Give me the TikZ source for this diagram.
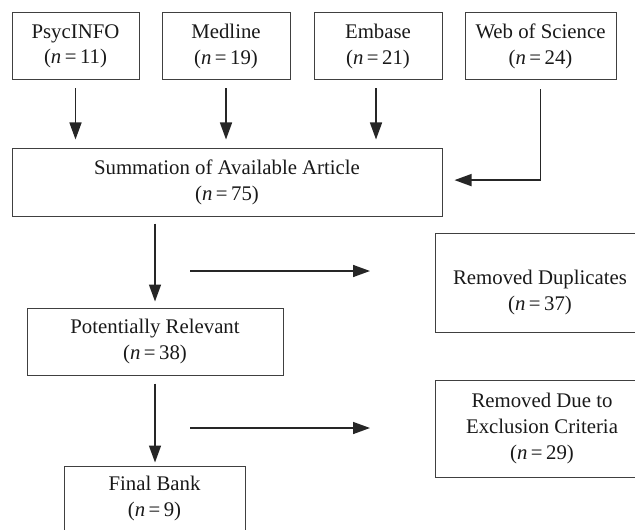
\documentclass[tikz,border=0pt]{standalone}
\usepackage{fontspec}
\setmainfont{Liberation Serif}
\usetikzlibrary{arrows.meta}

\newcommand{\nval}[1]{(\textit{n}\,=\,#1)}

\begin{document}
\begin{tikzpicture}[x=0.5pt, y=-0.5pt,
	box/.style={draw=black!75, line width=0.5pt, align=center, inner sep=0pt,
		text=black!90, font=\fontsize{10.4}{12.8}\selectfont},
	txt/.style={align=center, inner sep=0pt, text=black!90,
		font=\fontsize{10.4}{12.8}\selectfont},
	arr/.style={draw=black!85, line width=0.75pt,
		-{Triangle[length=8.5pt, width=6pt]}}]
	\useasboundingbox (0, 0) rectangle (635, 529);

	% databases
	\node [box, minimum width=63.5pt, minimum height=33.5pt] (psyc) at (75.5, 46.5)
	{PsycINFO\\\nval{11}};
	\node [box, minimum width=64pt, minimum height=33.5pt] (med) at (226, 46.5)
	{Medline\\\nval{19}};
	\node [box, minimum width=64pt, minimum height=33.5pt] (emb) at (378, 46.5)
	{Embase\\\nval{21}};
	\node [box, minimum width=75.5pt, minimum height=33.5pt] (wos) at (540.5, 46.5)
	{Web of Science\\\nval{24}};

	\node [box, minimum width=215pt, minimum height=33.5pt] (sum) at (227, 182.5)
	{Summation of Available Article\\\nval{75}};

	\draw [arr, shorten <=4pt, shorten >=4.5pt] (psyc.south) -- (psyc.south |- sum.north);
	\draw [arr, shorten <=4pt, shorten >=4.5pt] (med.south) -- (med.south |- sum.north);
	\draw [arr, shorten <=4pt, shorten >=4.5pt] ([xshift=-1pt]emb.south)
	-- ([xshift=-1pt]emb.south |- sum.north);
	\draw [arr, shorten <=4.5pt, shorten >=6pt] (wos.south) |- ([yshift=1.2pt]sum.east);

	% screening
	\node [box, minimum width=128pt, minimum height=33.5pt] (pot) at (155, 341.5)
	{Potentially Relevant\\\nval{38}};
	\node [box, minimum width=90.5pt, minimum height=32.5pt] (final) at (154.5, 498.5)
	{Final Bank\\\nval{9}};

	\draw [arr, shorten <=3.5pt, shorten >=3pt] (pot.north |- sum.south) -- (pot.north);
	\draw [arr, shorten <=4pt, shorten >=1.5pt] (pot.south) -- (pot.south |- final.north);

	% removed
	\node [box, minimum width=107pt, minimum height=49.5pt] (dup) at (542, 282.5) {};
	\node [txt] (duptext) at (540, 292.5) {Removed Duplicates\\\nval{37}};
	\node [box, minimum width=107pt, minimum height=48.5pt] (excl) at (542, 428.5)
	{Removed Due to\\Exclusion Criteria\\\nval{29}};

	\coordinate (d1) at (190, 271);
	\coordinate (d2) at (370, 271);
	\coordinate (e1) at (190, 428);
	\coordinate (e2) at (370, 428);
	\draw [arr] (d1) -- (d2);
	\draw [arr] (e1) -- (e2);
\end{tikzpicture}
\end{document}
